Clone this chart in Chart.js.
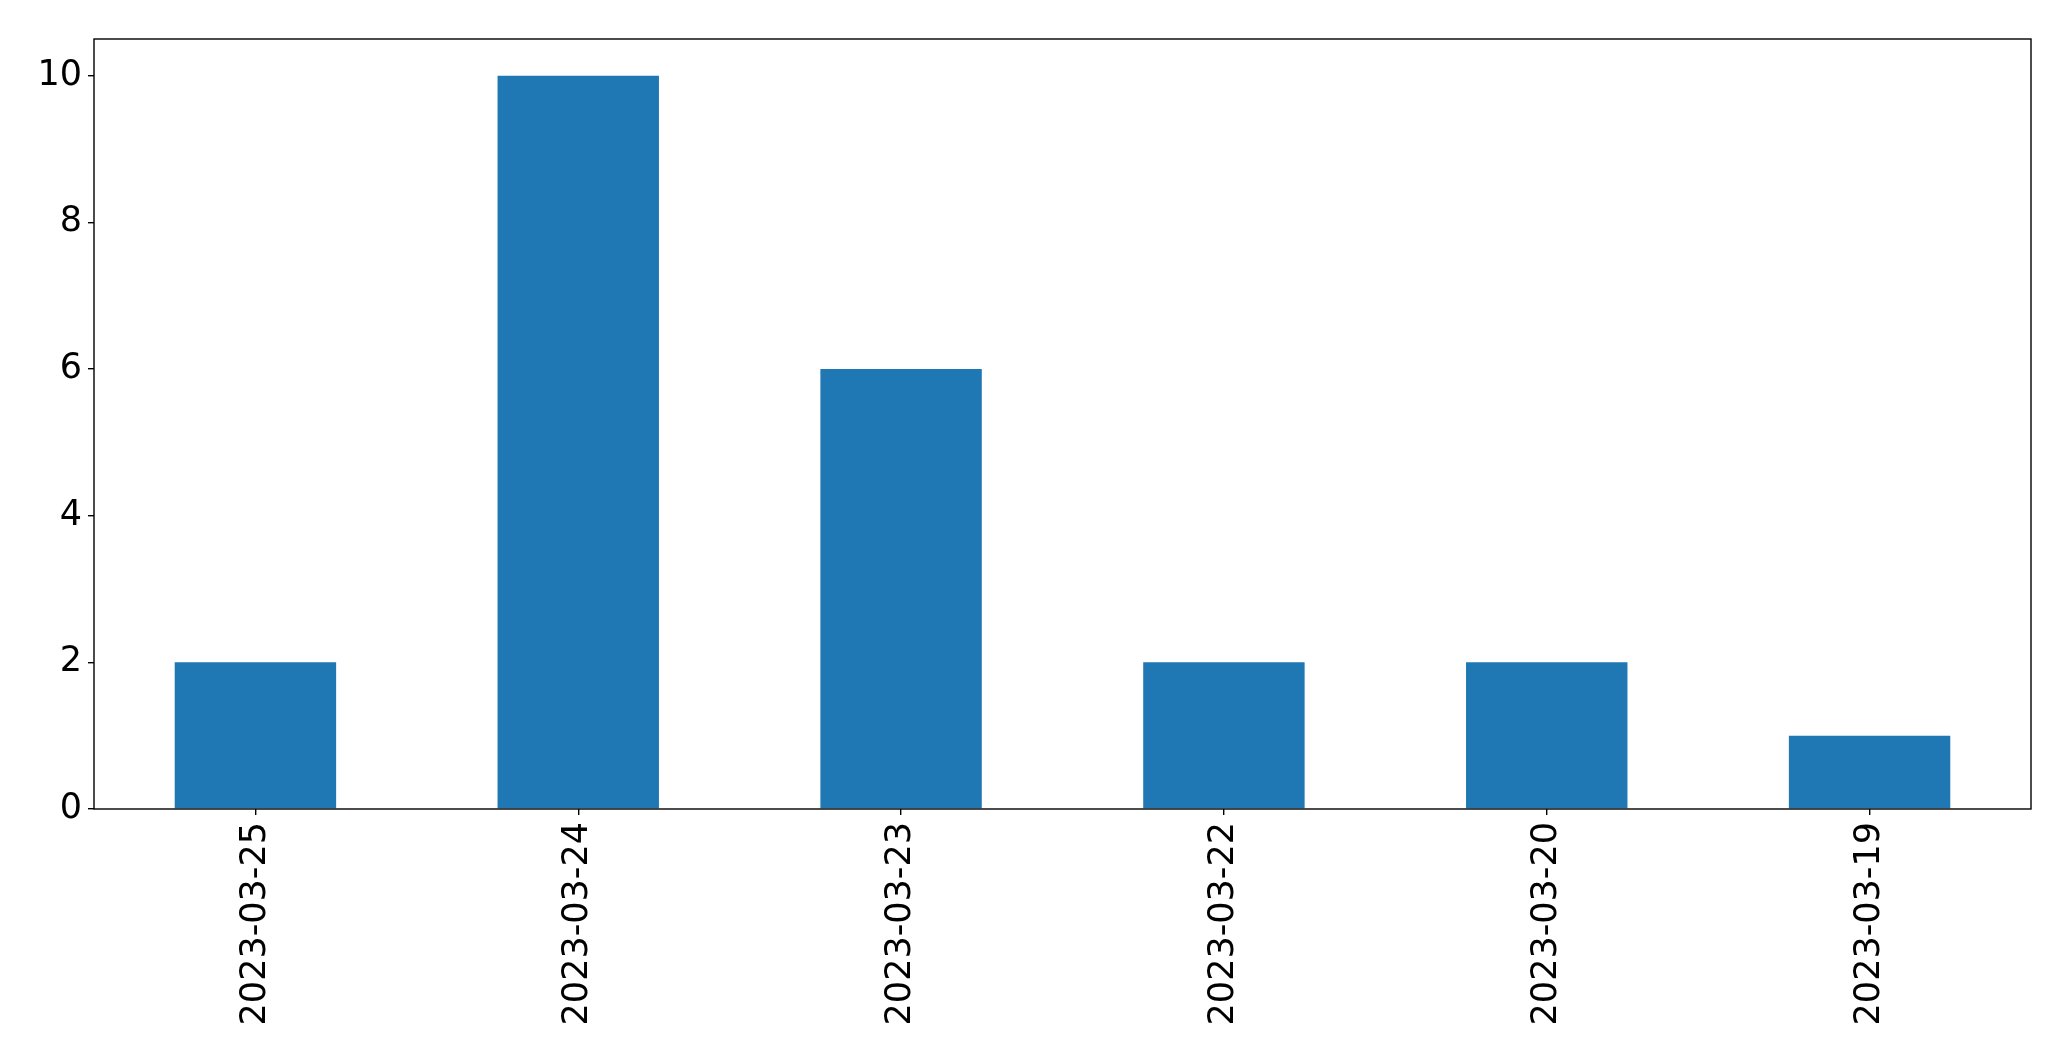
<!DOCTYPE html>
<html>
<head>
<meta charset="utf-8">
<script src="https://cdn.jsdelivr.net/npm/chart.js@4.4.0/dist/chart.umd.min.js"></script>
<style>
  html, body { margin: 0; padding: 0; background: #fff; }
  #wrap { width: 2071px; height: 1061px; }
</style>
</head>
<body>
<div id="wrap"><canvas id="chart" width="2071" height="1061"></canvas></div>
<script>
// dates on the x axis, in the order shown
const dates = ["2023-03-25", "2023-03-24", "2023-03-23", "2023-03-22", "2023-03-20", "2023-03-19"];
// count per date
const counts = [2, 10, 6, 2, 2, 1];
// y axis tick values
const yTicks = [0, 2, 4, 6, 8, 10];

const font = { family: "'DejaVu Sans', sans-serif", size: 35 };

// draws the black frame around the plot area (matplotlib style)
const frame = {
  id: "frame",
  afterDraw(chart) {
    const { ctx, chartArea: a } = chart;
    ctx.save();
    ctx.strokeStyle = "#000";
    ctx.lineWidth = 1.4;
    ctx.strokeRect(a.left, a.top, a.right - a.left, a.bottom - a.top);
    ctx.restore();
  },
};

new Chart(document.getElementById("chart"), {
  type: "bar",
  data: {
    labels: dates,
    datasets: [{
      data: counts,
      backgroundColor: "#1f77b4",
      borderWidth: 0,
      barPercentage: 0.5,
      categoryPercentage: 1.0,
    }],
  },
  options: {
    responsive: false,
    animation: false,
    layout: { padding: { top: 39, right: 40, left: 0, bottom: 0 } },
    plugins: { legend: { display: false }, tooltip: { enabled: false } },
    scales: {
      x: {
        offset: true,
        grid: { offset: false, drawOnChartArea: false, color: "#000", tickLength: 6, lineWidth: 1.4 },
        border: { display: false },
        ticks: { color: "#000", font, minRotation: 90, maxRotation: 90, padding: 7 },
        afterFit(scale) { scale.height = 252; },
      },
      y: {
        min: 0,
        max: 10.5,
        afterBuildTicks(scale) { scale.ticks = yTicks.map(v => ({ value: v })); },
        grid: { drawOnChartArea: false, color: "#000", tickLength: 6, lineWidth: 1.4 },
        border: { display: false },
        ticks: { color: "#000", font, padding: 6 },
        afterFit(scale) { scale.width = 94; },
      },
    },
  },
  plugins: [frame],
});
</script>
</body>
</html>
